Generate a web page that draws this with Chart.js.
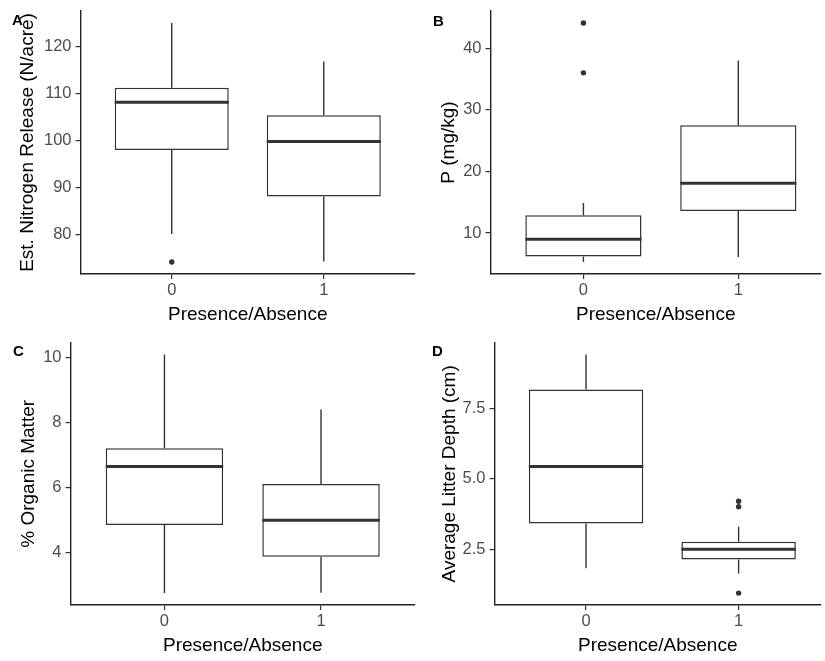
<!DOCTYPE html>
<html>
<head>
<meta charset="utf-8">
<script src="https://cdn.jsdelivr.net/npm/chart.js@4"></script>
<style>
  body { margin: 0; background: #fff; width: 825px; height: 661px; overflow: hidden; position: relative; }
  canvas { position: absolute; }
  .tag { position: absolute; font: bold 15px "Liberation Sans", Arial, sans-serif; line-height: 15px; color: #000; z-index: 2; }
</style>
</head>
<body>
<canvas id="chartA" width="420" height="330" style="left:0;top:0"></canvas>
<canvas id="chartB" width="413" height="330" style="left:412px;top:0"></canvas>
<canvas id="chartC" width="420" height="331" style="left:0;top:330px"></canvas>
<canvas id="chartD" width="413" height="331" style="left:412px;top:330px"></canvas>
<div class="tag" style="left:12px;top:12px">A</div>
<div class="tag" style="left:433px;top:13px">B</div>
<div class="tag" style="left:13px;top:343px">C</div>
<div class="tag" style="left:432px;top:343px">D</div>
<script>
const groups = ["0", "1"];

// A - nitrogen release
const nitrogenLow = [80.1, 74.2];
const nitrogenQ1 = [98.0, 88.1];
const nitrogenMedian = [108.2, 99.8];
const nitrogenQ3 = [111.3, 105.4];
const nitrogenHigh = [125.1, 116.9];
const nitrogenOutliers = [[74.1], []];
const nitrogenTicks = [80, 90, 100, 110, 120];

// B - phosphorus
const phosLow = [5.3, 6.1];
const phosQ1 = [6.2, 13.6];
const phosMedian = [9.0, 18.1];
const phosQ3 = [12.9, 27.5];
const phosHigh = [14.9, 38.0];
const phosOutliers = [[44.1, 36.0], []];
const phosTicks = [10, 20, 30, 40];

// C - organic matter
const organicLow = [2.74, 2.75];
const organicQ1 = [4.84, 3.86];
const organicMedian = [6.65, 4.99];
const organicQ3 = [7.21, 6.11];
const organicHigh = [10.1, 8.41];
const organicOutliers = [[], []];
const organicTicks = [4, 6, 8, 10];

// D - litter depth
const litterLow = [1.85, 1.66];
const litterQ1 = [3.43, 2.16];
const litterMedian = [5.44, 2.52];
const litterQ3 = [8.16, 2.78];
const litterHigh = [9.39, 3.31];
const litterOutliers = [[], [4.21, 4.02, 0.97]];
const litterTicks = [2.5, 5.0, 7.5];

const FONT = '"Liberation Sans", Arial, sans-serif';
const BOX_HALF = 0.375;
const INK = "#333333";

function line(points, width, order) {
  return { type: "line", data: points, borderColor: INK, borderWidth: width, pointRadius: 0, fill: false, order: order };
}

function boxDatasets(low, q1, med, q3, high, outliers) {
  const sets = [];
  sets.push({
    type: "bar",
    data: groups.map((g, i) => ({ x: i, y: [q1[i], q3[i]] })),
    backgroundColor: "#ffffff", borderColor: INK, borderWidth: 1.5, borderSkipped: false,
    categoryPercentage: 1, barPercentage: 0.75, order: 2
  });
  groups.forEach((g, i) => {
    sets.push(line([{ x: i, y: q3[i] }, { x: i, y: high[i] }], 1.4, 1));
    sets.push(line([{ x: i, y: q1[i] }, { x: i, y: low[i] }], 1.4, 1));
    sets.push(line([{ x: i - BOX_HALF, y: med[i] }, { x: i + BOX_HALF, y: med[i] }], 3, 0));
  });
  const pts = [];
  outliers.forEach((arr, i) => arr.forEach(v => pts.push({ x: i, y: v })));
  sets.push({ type: "scatter", data: pts, pointRadius: 2.7, backgroundColor: INK, borderWidth: 0, order: 0 });
  return sets;
}

// ggplot style 5% expansion of the data range
function yRange(low, high, outliers) {
  const all = low.concat(high, ...outliers);
  const lo = Math.min(...all), hi = Math.max(...all);
  const pad = (hi - lo) * 0.05;
  return [lo - pad, hi + pad];
}

function makePanel(id, opts) {
  const [ymin, ymax] = yRange(opts.low, opts.high, opts.outliers);
  const canvas = document.getElementById(id);
  new Chart(canvas, {
    type: "bar",
    data: { datasets: boxDatasets(opts.low, opts.q1, opts.med, opts.q3, opts.high, opts.outliers) },
    options: {
      responsive: false,
      animation: false,
      layout: { padding: { top: opts.top, right: canvas.width - opts.right, left: 0, bottom: 0 } },
      plugins: { legend: { display: false }, tooltip: { enabled: false } },
      scales: {
        x: {
          type: "linear", min: -0.6, max: opts.xMax, offset: false,
          afterBuildTicks: s => { s.ticks = groups.map((g, i) => ({ value: i })); },
          afterFit: s => { s.height = 56; s.paddingLeft = 0; s.paddingRight = 0; },
          ticks: { callback: v => groups[v], color: "#4D4D4D", font: { family: FONT, size: 16.5 }, padding: 2, maxRotation: 0, autoSkip: false },
          grid: { display: true, drawOnChartArea: false, drawTicks: true, tickLength: 5, color: INK, lineWidth: 1.2, offset: false },
          border: { display: true, color: "#222", width: 1.4 },
          title: { display: true, text: "Presence/Absence", color: "#000", font: { family: FONT, size: 19 }, padding: { top: 0, bottom: 3.6 } }
        },
        y: {
          type: "linear", min: ymin, max: ymax,
          afterBuildTicks: s => { s.ticks = opts.ticks.map(v => ({ value: v })); },
          afterFit: s => { s.width = opts.left; s.paddingTop = 0; s.paddingBottom = 0; },
          ticks: { callback: (v, i) => opts.tickText ? v.toFixed(1) : String(v), color: "#4D4D4D", font: { family: FONT, size: 16.5 }, padding: 4 },
          grid: { display: true, drawOnChartArea: false, drawTicks: true, tickLength: 5, color: INK, lineWidth: 1.2 },
          border: { display: true, color: "#222", width: 1.4 },
          title: { display: true, text: opts.title, color: "#000", font: { family: FONT, size: 19 }, padding: { top: opts.titlePad, bottom: 0 } }
        }
      }
    }
  });
}

makePanel("chartA", {
  low: nitrogenLow, q1: nitrogenQ1, med: nitrogenMedian, q3: nitrogenQ3, high: nitrogenHigh, outliers: nitrogenOutliers,
  ticks: nitrogenTicks, title: "Est. Nitrogen Release (N/acre)",
  left: 80.5, top: 11, right: 415, xMax: 1.6, titlePad: 16
});
makePanel("chartB", {
  low: phosLow, q1: phosQ1, med: phosMedian, q3: phosQ3, high: phosHigh, outliers: phosOutliers,
  ticks: phosTicks, title: "P (mg/kg)",
  left: 78.5, top: 11, right: 413, xMax: 1.534, titlePad: 25
});
makePanel("chartC", {
  low: organicLow, q1: organicQ1, med: organicMedian, q3: organicQ3, high: organicHigh, outliers: organicOutliers,
  ticks: organicTicks, title: "% Organic Matter",
  left: 70.5, top: 12.7, right: 415, xMax: 1.6, titlePad: 17
});
makePanel("chartD", {
  low: litterLow, q1: litterQ1, med: litterMedian, q3: litterQ3, high: litterHigh, outliers: litterOutliers,
  ticks: litterTicks, tickText: true, title: "Average Litter Depth (cm)",
  left: 82.5, top: 12.7, right: 413, xMax: 1.54, titlePad: 26
});
</script>
</body>
</html>
